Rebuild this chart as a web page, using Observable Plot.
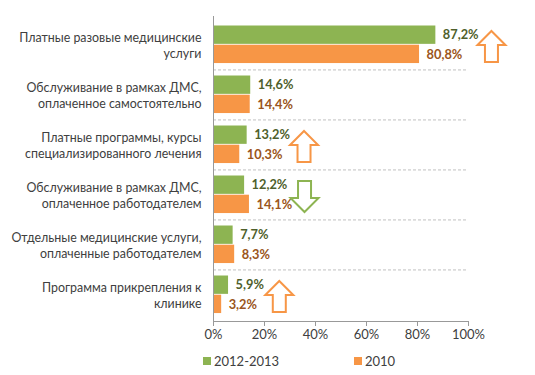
<!DOCTYPE html>
<html><head><meta charset="utf-8">
<script src="https://cdn.jsdelivr.net/npm/d3@7"></script>
<script src="https://cdn.jsdelivr.net/npm/@observablehq/plot@0.6"></script>
<style>
body{margin:0;background:#fff;font-family:Lato,"Open Sans",sans-serif;}
#legend{position:relative;height:25px;font-size:13px;color:#404040;}
#legend .it{position:absolute;top:3px;display:flex;align-items:center;gap:3px;}
#legend .sw{width:8px;height:8px;display:inline-block;}
</style></head>
<body><div id="chart"></div><div id="legend"></div>
<script>
const categories = [
  "Платные разовые медицинские\nуслуги",
  "Обслуживание в рамках ДМС,\nоплаченное самостоятельно",
  "Платные программы, курсы\nспециализированного лечения",
  "Обслуживание в рамках ДМС,\nоплаченное работодателем",
  "Отдельные медицинские услуги,\nоплаченные работодателем",
  "Программа прикрепления к\nклинике"
];
const seriesNames = ["2012-2013", "2010"];
const values2013 = [87.2, 14.6, 13.2, 12.2, 7.7, 5.9];
const values2010 = [80.8, 14.4, 10.3, 14.1, 8.3, 3.2];
const xTicks = [0, 20, 40, 60, 80, 100];
const arrowCategory = [0, 2, 3, 5];
const arrowX = [109, 35.5, 35.7, 25.8];
const arrowDir = ["up", "up", "down", "up"];

const colors = {"2012-2013": "#8DB452", "2010": "#F79646"};
const textColors = {"2012-2013": "#4F5F2C", "2010": "#9A5520"};

const rows13 = categories.map((c, i) => ({cat: c, value: values2013[i]}));
const rows10 = categories.map((c, i) => ({cat: c, value: values2010[i]}));
const arrows = arrowCategory.map((ci, i) => ({cat: categories[ci], x: arrowX[i], dir: arrowDir[i]}));

const fmt = v => v.toFixed(1).replace(".", ",") + "%";

function arrowSymbol(up) {
  return {
    draw(ctx, size) {
      const k = Math.sqrt(size / Math.PI) / 14;
      const s = up ? 1 : -1;
      const pts = [[0,-15.5],[14,-1.5],[6.5,-1.5],[6.5,15.5],[-6.5,15.5],[-6.5,-1.5],[-14,-1.5]];
      pts.forEach(([x, y], j) => {
        const px = x * k, py = y * k * s;
        if (j === 0) ctx.moveTo(px, py); else ctx.lineTo(px, py);
      });
      ctx.closePath();
    }
  };
}

const band = (321 - 15.9) / 6;

const chart = Plot.plot({
  width: 535,
  height: 350,
  marginLeft: 213,
  marginRight: 67,
  marginTop: 16,
  marginBottom: 29,
  style: {fontFamily: "Lato, 'Open Sans', sans-serif", background: "#fff"},
  x: {domain: [0, 100]},
  y: {domain: categories, padding: 0, axis: null},
  marks: [
    Plot.ruleY(categories.slice(0, 5), {y: d => d, x1: 0, x2: 100, dy: band / 2, stroke: "#c0c0c0", strokeDasharray: "3,2"}),
    Plot.barX(rows13, {y: "cat", x: "value", fill: colors["2012-2013"], insetTop: 6.5, insetBottom: band - 6.5 - 19.2}),
    Plot.barX(rows10, {y: "cat", x: "value", fill: colors["2010"], insetTop: 25.7, insetBottom: band - 25.7 - 19.2}),
    Plot.text(rows13, {y: "cat", x: "value", text: d => fmt(d.value), dx: 7, dy: -9.3, textAnchor: "start", fill: textColors["2012-2013"], fontSize: 12.8, fontWeight: "bold"}),
    Plot.text(rows10, {y: "cat", x: "value", text: d => fmt(d.value), dx: 7, dy: 9.9, textAnchor: "start", fill: textColors["2010"], fontSize: 12.8, fontWeight: "bold"}),
    Plot.text(categories, {y: d => d, x: 0, text: d => d, dx: -12, textAnchor: "end", fontSize: 12.4, lineHeight: 1.32, fill: "#404040"}),
    Plot.frame({anchor: "left", stroke: "#999"}),
    Plot.frame({anchor: "bottom", stroke: "#999"}),
    Plot.axisX({ticks: xTicks, tickFormat: d => d + "%", tickSize: 5, tickPadding: 3, fontSize: 13, stroke: "#999", fill: "#404040", label: null}),
    Plot.dot(arrows.filter(d => d.dir === "up"), {y: "cat", x: "x", dy: 2, r: 14, symbol: arrowSymbol(true), fill: "white", stroke: "#F79646", strokeWidth: 2}),
    Plot.dot(arrows.filter(d => d.dir === "down"), {y: "cat", x: "x", dy: 2, r: 14, symbol: arrowSymbol(false), fill: "white", stroke: "#8DB452", strokeWidth: 2})
  ]
});
document.getElementById("chart").appendChild(chart);

const legend = document.getElementById("legend");
const legendLeft = [203, 354];
seriesNames.forEach((s, i) => {
  const it = document.createElement("div");
  it.className = "it";
  it.style.left = legendLeft[i] + "px";
  it.innerHTML = `<span class="sw" style="background:${colors[s]}"></span><span>${s}</span>`;
  legend.appendChild(it);
});
</script>
</body></html>
